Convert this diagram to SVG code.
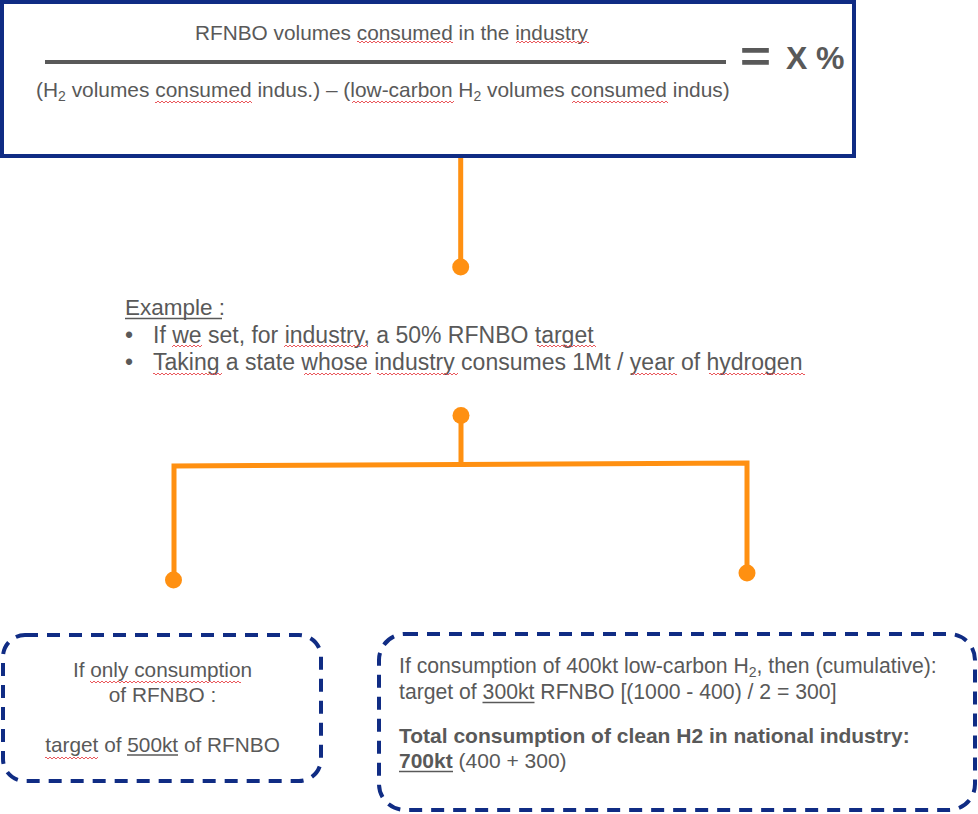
<svg xmlns="http://www.w3.org/2000/svg" width="978" height="814" viewBox="0 0 978 814">
<style>
  .t{font-family:"Liberation Sans",Arial,sans-serif;fill:#595959}
  .b{font-weight:bold}
  .navy{fill:none;stroke:#102C84;stroke-width:4}
  .dash{fill:none;stroke:#102C84;stroke-width:4;stroke-dasharray:13 9}
  .conn{fill:none;stroke:#FF9011;stroke-width:5}
  .dot{fill:#FF9011}
  .ul{stroke:#595959;stroke-width:1.5}
  .sq{fill:url(#sq)}
</style>
<defs>
  <pattern id="sq" width="4" height="4" patternUnits="userSpaceOnUse">
    <path d="M0,3 L2,1 L4,3" fill="none" stroke="#E8454A" stroke-width="0.9"/>
  </pattern>
</defs>
<rect width="978" height="814" fill="#ffffff"/>

<g id="connectors">
  <line class="conn" x1="460.7" y1="158" x2="460.7" y2="266"/>
  <circle class="dot" cx="460.7" cy="267" r="8.5"/>
  <circle class="dot" cx="461" cy="415.5" r="8.5"/>
  <line class="conn" x1="461" y1="415" x2="461" y2="464"/>
  <path class="conn" d="M174,580 L174,466 L747,463 L747,573"/>
  <circle class="dot" cx="173.5" cy="580" r="8.5"/>
  <circle class="dot" cx="747" cy="573" r="8.5"/>
</g>

<g id="formula">
  <rect class="navy" x="2" y="2" width="852" height="154"/>
  <text class="t" x="195" y="40" font-size="20.8">RFNBO volumes consumed in the industry</text>
  <rect class="sq" x="357" y="40" width="96" height="4"/>
  <rect class="sq" x="516" y="40" width="73" height="4"/>
  <line x1="45" y1="62" x2="726" y2="62" stroke="#595959" stroke-width="4"/>
  <text class="t" x="36" y="97" font-size="20.9">(H<tspan font-size="14" dy="4">2</tspan><tspan dy="-4"> volumes consumed indus.) – (low-carbon H</tspan><tspan font-size="14" dy="4">2</tspan><tspan dy="-4"> volumes consumed indus)</tspan></text>
  <rect class="sq" x="155" y="100" width="97" height="4"/>
  <rect class="sq" x="352" y="100" width="102" height="4"/>
  <rect class="sq" x="572" y="100" width="96" height="4"/>
  <text class="t b" x="740" y="72" font-size="44" textLength="31" lengthAdjust="spacingAndGlyphs">=</text>
  <text class="t b" x="786" y="69" font-size="32">X</text>
  <text class="t b" x="816" y="69" font-size="32">%</text>
</g>

<g id="example">
  <text class="t" x="125" y="315" font-size="22.5">Example :</text>
  <line class="ul" x1="125" y1="318.5" x2="222" y2="318.5"/>
  <text class="t" x="125" y="343" font-size="23">•</text>
  <text class="t" x="153" y="343" font-size="23">If we set, for industry, a 50% RFNBO target</text>
  <rect class="sq" x="172" y="344" width="30" height="4"/>
  <rect class="sq" x="284" y="344" width="84" height="4"/>
  <rect class="sq" x="537" y="344" width="59" height="4"/>
  <text class="t" x="125" y="370" font-size="23">•</text>
  <text class="t" x="153" y="370" font-size="23">Taking a state whose industry consumes 1Mt / year of hydrogen</text>
  <rect class="sq" x="153" y="372" width="69" height="4"/>
  <rect class="sq" x="304" y="372" width="67" height="4"/>
  <rect class="sq" x="377" y="372" width="81" height="4"/>
  <rect class="sq" x="632" y="372" width="45" height="4"/>
  <rect class="sq" x="709" y="372" width="96" height="4"/>
</g>

<g id="only-rfnbo">
  <rect class="dash" x="3" y="635" width="318" height="146" rx="22" ry="22"/>
  <text class="t" x="162.5" y="676.5" font-size="20.8" text-anchor="middle">If only consumption</text>
  <rect class="sq" x="90" y="680" width="38" height="4"/>
  <rect class="sq" x="123" y="680" width="118" height="4"/>
  <text class="t" x="162.5" y="702" font-size="20.8" text-anchor="middle">of RFNBO :</text>
  <text class="t" x="162.5" y="751.5" font-size="20.8" text-anchor="middle">target of 500kt of RFNBO</text>
  <line class="ul" x1="127" y1="755" x2="178" y2="755"/>
  <rect class="sq" x="45" y="756" width="53" height="4"/>
</g>

<g id="with-low-carbon">
  <rect class="dash" x="379" y="634" width="596" height="176" rx="26" ry="26"/>
  <text class="t" x="399" y="673" font-size="21.2">If consumption of 400kt low-carbon H<tspan font-size="14" dy="4">2</tspan><tspan dy="-4">, then (cumulative):</tspan></text>
  <text class="t" x="399" y="699" font-size="21.2">target of 300kt RFNBO [(1000 - 400) / 2 = 300]</text>
  <line class="ul" x1="482.5" y1="702.5" x2="534.5" y2="702.5"/>
  <text class="t b" x="399" y="743" font-size="21">Total consumption of clean H2 in national industry:</text>
  <text class="t" x="399" y="768" font-size="21"><tspan class="b">700kt</tspan> (400 + 300)</text>
  <line class="ul" x1="399" y1="771.5" x2="453" y2="771.5" stroke-width="2"/>
</g>
</svg>
